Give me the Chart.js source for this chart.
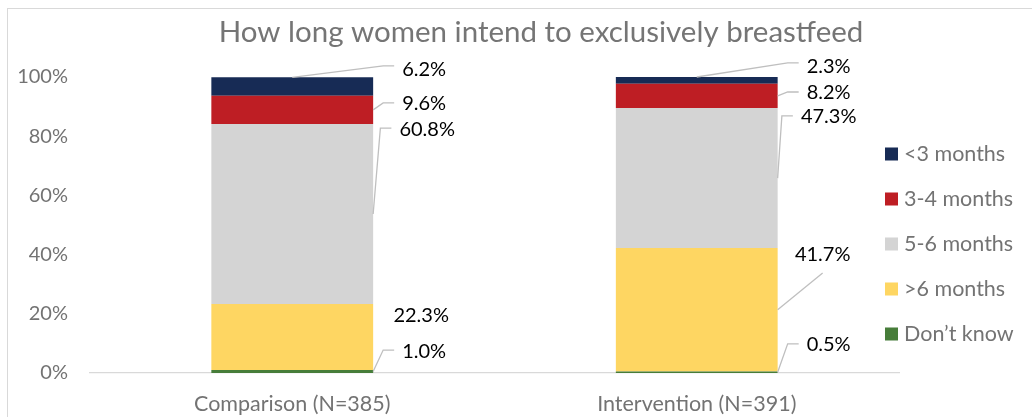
<!DOCTYPE html>
<html>
<head>
<meta charset="utf-8">
<script src="https://cdn.jsdelivr.net/npm/chart.js@4.4.1/dist/chart.umd.min.js"></script>
<style>
  html, body { margin: 0; padding: 0; background: #fff; }
  #wrap { position: relative; width: 1032px; height: 417px; overflow: hidden; }
  #frame { position: absolute; left: 7px; top: 8px; width: 1040px; height: 420px; border: 1px solid #d9d9d9; }
  canvas { position: absolute; left: 0; top: 0; }
</style>
</head>
<body>
<div id="wrap"><div id="frame"></div><canvas id="chart" width="1032" height="417"></canvas></div>
<script>
const categories = ['Comparison (N=385)', 'Intervention (N=391)'];
const dontKnow = [1.0, 0.5];
const over6 = [22.3, 41.7];
const m5to6 = [60.8, 47.3];
const m3to4 = [9.6, 8.2];
const under3 = [6.2, 2.3];
const yTicks = [0, 20, 40, 60, 80, 100];

// where each data label sits (value-axis height of its centre), leader style, x nudge
const labelSpots = {
  'Don\u2019t know': [[7.4, 'elbow'], [9.5, 'elbow']],
  '>6 months': [[19.3, null, -3], [39.9, 'under', -6]],
  '5-6 months': [[82.4, 'elbow', 3], [86.5, 'elbow']],
  '3-4 months': [[90.9, 'elbow'], [94.6, 'elbow']],
  '<3 months': [[102.4, 'top'], [103.4, 'top']],
};

const labelFont = '20px Lato';
const tickColor = '#737373';

const excelLabels = {
  id: 'excelLabels',
  afterLayout(chart) {
    // excel centres the title a bit right of the canvas middle
    chart.titleBlock.left += 50;
  },
  afterDatasetsDraw(chart) {
    const ctx = chart.ctx;
    const ys = chart.scales.y;
    ctx.save();
    ctx.font = labelFont;
    ctx.textAlign = 'center';
    ctx.textBaseline = 'middle';
    ctx.lineWidth = 1.3;
    ctx.strokeStyle = '#bfbfbf';
    chart.data.datasets.forEach((ds, di) => {
      chart.getDatasetMeta(di).data.forEach((bar, i) => {
        const spot = labelSpots[ds.label][i];
        const text = ds.data[i].toFixed(1) + '%';
        const right = bar.x + bar.width / 2;
        const cx = right + 51 + (spot[2] || 0);
        const cy = ys.getPixelForValue(spot[0]);
        const left = cx - ctx.measureText(text).width / 2;
        const midY = (bar.y + bar.base) / 2;
        ctx.beginPath();
        if (spot[1] === 'elbow') {
          ctx.moveTo(right, midY);
          ctx.lineTo(left - 19, cy - 1);
          ctx.lineTo(left - 8, cy - 1);
        } else if (spot[1] === 'top') {
          ctx.moveTo(bar.x, bar.y);
          ctx.lineTo(left - 19, cy - 4);
          ctx.lineTo(left - 8, cy - 4);
        } else if (spot[1] === 'under') {
          ctx.moveTo(right, midY);
          ctx.lineTo(cx, cy + 18);
        }
        ctx.stroke();
        ctx.fillStyle = '#000';
        ctx.fillText(text, cx, cy);
      });
    });

    // legend, top item = top of the stack
    const area = chart.chartArea;
    ctx.font = '21.5px Lato';
    ctx.textAlign = 'left';
    const items = chart.data.datasets.slice().reverse();
    items.forEach((ds, k) => {
      const rowY = area.top + 77 + k * 45;
      ctx.fillStyle = ds.backgroundColor;
      ctx.fillRect(area.right - 14, rowY - 6.5, 13, 13);
      ctx.fillStyle = tickColor;
      ctx.fillText(ds.label, area.right + 5, rowY);
    });
    ctx.restore();
  }
};

new Chart(document.getElementById('chart'), {
  type: 'bar',
  data: {
    labels: categories,
    datasets: [
      { label: 'Don\u2019t know', data: dontKnow, backgroundColor: '#477d3a' },
      { label: '>6 months', data: over6, backgroundColor: '#fed662' },
      { label: '5-6 months', data: m5to6, backgroundColor: '#d4d4d4' },
      { label: '3-4 months', data: m3to4, backgroundColor: '#be1e24' },
      { label: '<3 months', data: under3, backgroundColor: '#172b55' },
    ],
  },
  options: {
    responsive: false,
    animation: false,
    categoryPercentage: 1,
    barPercentage: 0.4,
    layout: { padding: 0 },
    plugins: {
      legend: { display: false },
      tooltip: { enabled: false },
      title: {
        display: true,
        text: 'How long women intend to exclusively breastfeed',
        color: '#757575',
        font: { family: 'Lato', size: 29.5, weight: 'normal' },
        padding: { top: 15, bottom: 26.6 },
      },
    },
    scales: {
      x: {
        stacked: true,
        grid: { display: false, drawTicks: false },
        border: { display: true, color: '#d9d9d9', width: 1.3 },
        ticks: { color: tickColor, font: { family: 'Lato', size: 21.5 }, padding: 18 },
        afterFit: (s) => { s.height = 44; s.paddingLeft = 0; s.paddingRight = 133; },
      },
      y: {
        stacked: true,
        min: 0,
        max: 100,
        grid: { display: false, drawTicks: false },
        border: { display: false },
        afterBuildTicks: (s) => { s.ticks = yTicks.map((v) => ({ value: v })); },
        ticks: { color: tickColor, font: { family: 'Lato', size: 20 }, padding: 22, callback: (v) => v + '%' },
        afterFit: (s) => { s.width = 90; },
      },
    },
  },
  plugins: [excelLabels],
});
</script>
</body>
</html>
